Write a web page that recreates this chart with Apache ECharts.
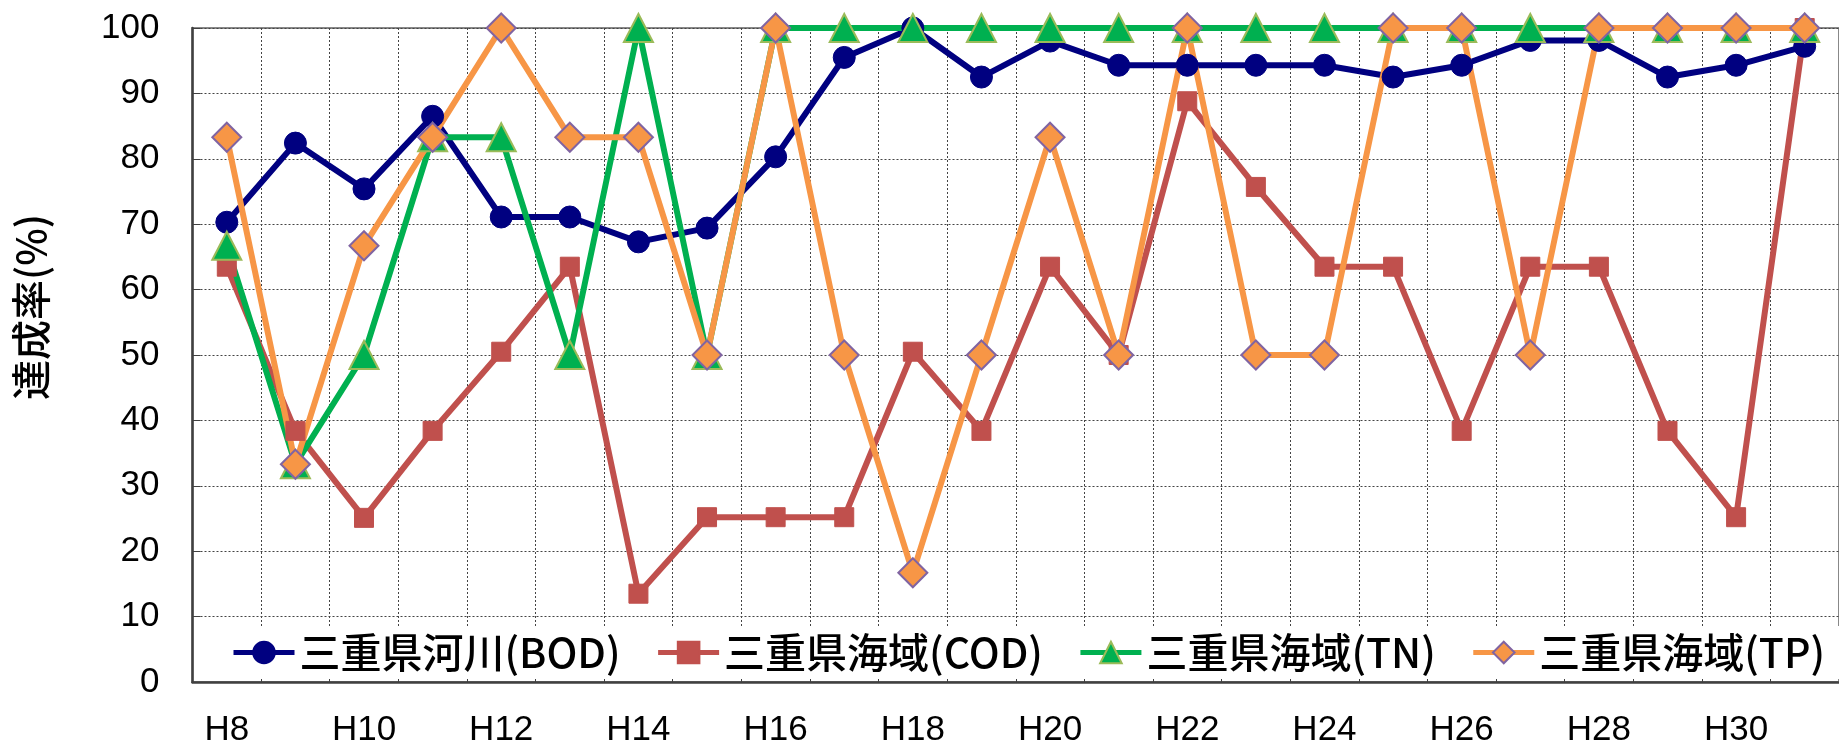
<!DOCTYPE html>
<html><head><meta charset="utf-8">
<script src="https://cdn.jsdelivr.net/npm/echarts@6/dist/echarts.min.js"></script>
<style>html,body{margin:0;padding:0;background:#fff}#c{width:1839px;height:748px}</style>
</head><body><div id="c"></div>
<script>
const categories = ['H8','H9','H10','H11','H12','H13','H14','H15','H16','H17','H18','H19','H20','H21','H22','H23','H24','H25','H26','H27','H28','H29','H30','H31'];
const bodRiver = [70.3, 82.4, 75.4, 86.5, 71.1, 71.1, 67.3, 69.4, 80.3, 95.5, 100, 92.5, 98.0, 94.3, 94.3, 94.3, 94.3, 92.5, 94.3, 98.1, 98.1, 92.5, 94.3, 97.2];
const codSea = [63.5, 38.4, 25.1, 38.4, 50.5, 63.5, 13.5, 25.2, 25.2, 25.2, 50.5, 38.4, 63.5, 50.0, 88.8, 75.7, 63.5, 63.5, 38.4, 63.5, 63.5, 38.4, 25.2, 100];
const tnSea = [66.7, 33.3, 50.0, 83.3, 83.3, 50.0, 100, 50.0, 100, 100, 100, 100, 100, 100, 100, 100, 100, 100, 100, 100, 100, 100, 100, 100];
const tpSea = [83.3, 33.3, 66.7, 83.3, 100, 83.3, 83.3, 50.0, 100, 50.0, 16.7, 50.0, 83.3, 50.0, 100, 50.0, 50.0, 100, 100, 50.0, 100, 100, 100, 100];
const seriesNames = ['三重県河川(BOD)', '三重県海域(COD)', '三重県海域(TN)', '三重県海域(TP)'];
const yAxisTitle = '達成率(%)';

const chart = echarts.init(document.getElementById('c'), null, {renderer: 'canvas'});
const numFont = '"Liberation Sans", Arial, sans-serif';
const jpFont = '"Noto Sans CJK JP", sans-serif';
const LW = 6;
function dotted() { return {type: [2, 2], color: '#444', width: 1}; }

chart.setOption({
  animation: false,
  backgroundColor: '#fff',
  grid: {left: 192.5, right: -6, top: 28, bottom: 63, show: true, borderColor: '#888', borderWidth: 2, backgroundColor: 'transparent'},
  graphic: [{
    type: 'text', x: 31, y: 307, rotation: Math.PI / 2,
    style: {text: yAxisTitle, font: '500 40px ' + jpFont, fill: '#000', align: 'center', verticalAlign: 'middle'}
  }],
  legend: {
    left: 196, top: 626, width: 1640, padding: [6, 20, 6, 35], backgroundColor: '#fff',
    itemWidth: 61, itemHeight: 27, itemGap: 35,
    lineStyle: {width: 5},
    textStyle: {fontFamily: jpFont, fontSize: 41, fontWeight: 500, color: '#000'},
    data: seriesNames
  },
  xAxis: {
    type: 'category', data: categories, boundaryGap: true,
    axisLine: {lineStyle: {color: '#404040', width: 2.5}},
    axisTick: {show: true, inside: true, length: 6, interval: 0, lineStyle: {color: '#404040', width: 1}},
    axisLabel: {interval: 1, fontFamily: numFont, fontSize: 35, color: '#000', margin: 31},
    splitLine: {show: true, interval: 0, lineStyle: dotted()}
  },
  yAxis: {
    type: 'value', min: 0, max: 100, interval: 10,
    axisLine: {show: true, lineStyle: {color: '#404040', width: 2.5}},
    axisTick: {show: true, inside: true, length: 8, lineStyle: {color: '#404040', width: 1}},
    axisLabel: {fontFamily: numFont, fontSize: 35, color: '#000', margin: 33},
    splitLine: {show: true, lineStyle: dotted()}
  },
  series: [
    {name: seriesNames[0], type: 'line', data: bodRiver, symbol: 'circle', symbolSize: 22,
     lineStyle: {color: '#000080', width: LW}, itemStyle: {color: '#000080', borderColor: '#000080', borderWidth: 1}},
    {name: seriesNames[1], type: 'line', data: codSea, symbol: 'rect', symbolSize: 19,
     lineStyle: {color: '#C0504D', width: LW}, itemStyle: {color: '#C0504D', borderColor: '#C0504D', borderWidth: 1}},
    {name: seriesNames[2], type: 'line', data: tnSea, symbol: 'triangle', symbolSize: [29, 28],
     lineStyle: {color: '#00B050', width: LW}, itemStyle: {color: '#00B050', borderColor: '#9BBB59', borderWidth: 2}},
    {name: seriesNames[3], type: 'line', data: tpSea, symbol: 'diamond', symbolSize: 29,
     lineStyle: {color: '#F79646', width: LW}, itemStyle: {color: '#F79646', borderColor: '#8064A2', borderWidth: 2}}
  ]
});
</script>
</body></html>
